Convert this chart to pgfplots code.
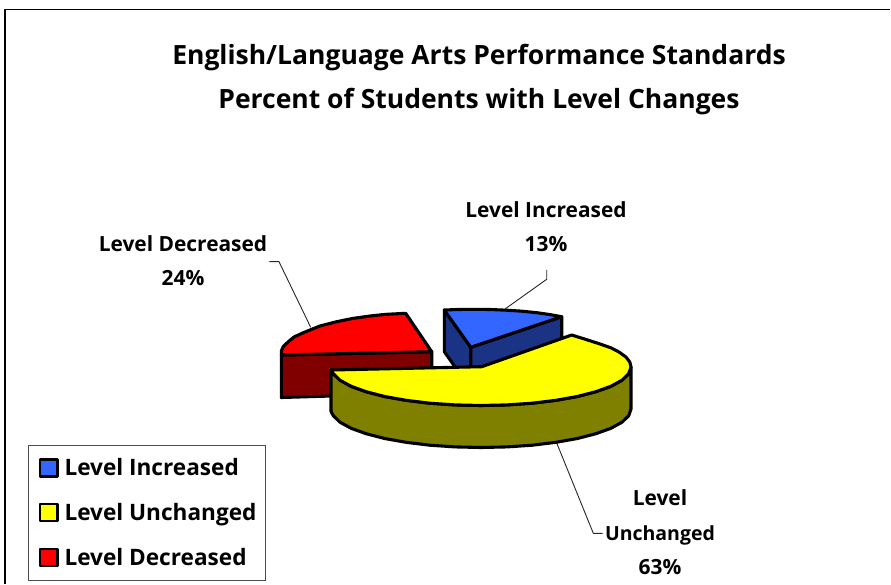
\documentclass[border=0pt]{standalone}
\usepackage{pgfplots}
\pgfplotsset{compat=1.18}
\usepackage{fontspec}
\setmainfont{Open Sans}
\definecolor{cblue}{HTML}{3366FF}
\definecolor{cblued}{HTML}{1A3385}
\definecolor{cyel}{HTML}{FFFF00}
\definecolor{cyeld}{HTML}{808000}
\definecolor{cred}{HTML}{FF0000}
\definecolor{credd}{HTML}{800000}
\begin{document}
\begin{tikzpicture}[x=1pt,y=1pt]
\begin{axis}[
  scale only axis, width=891pt, height=585pt,
  xmin=0, xmax=891, ymin=0, ymax=585, y dir=reverse,
  hide axis, clip=false,
  legend style={at={(axis cs:28,445)}, anchor=north west, draw=black!70, line width=0.9pt,
    font=\fontsize{22.6}{25}\selectfont\bfseries, inner xsep=9pt, inner ysep=13pt,
    /tikz/every even column/.append style={column sep=0pt},
    row sep=25.5pt, legend cell align=left, nodes={inner sep=0pt, anchor=west}},
  every axis plot/.append style={line join=round},
]
% page corners
\addplot[forget plot, draw=none, line width=0pt] coordinates {(0,0) (891,585)};
% frame
\addplot[forget plot, black, line width=1.4pt] coordinates {(5,584) (5,9.5) (890,9.5)};
% leaders
\addplot[forget plot, black!85, line width=0.9pt] coordinates {(505,309) (546.7,279.3) (546.7,270)};
\addplot[forget plot, black!85, line width=0.9pt] coordinates {(310.7,327.3) (279,261.7) (269.3,261.7)};
\addplot[forget plot, black!85, line width=0.9pt] coordinates {(556.7,443) (593.3,533.3) (602.7,533.3)};
% red
\addplot[forget plot, fill=credd, draw=black, line width=3.1pt] coordinates {(281.3,355) (431.7,351.7) (431.7,393) (281.3,397.5)} -- cycle;
\addplot[forget plot, fill=cred, draw=black, line width=3.1pt] coordinates {(431.7,351.7) (405.7,313.3) (385,314.4) (370,316) (353,318.4) (336.7,321.7) (320,326) (303.3,332.7) (294,337) (288.3,341.7) (283.3,346.5) (281.3,351) (281.3,355)} -- cycle;
% blue
\addplot[forget plot, fill=cblued, draw=black, line width=3.1pt] coordinates {(444.3,310) (470.7,347.3) (470.7,389) (444.3,351.7)} -- cycle;
\addplot[forget plot, fill=cblued, draw=black, line width=3.1pt] coordinates {(470.7,347.3) (561.7,316.7) (561.7,358) (470.7,389)} -- cycle;
\addplot[forget plot, fill=cblue, draw=black, line width=3.1pt] coordinates {(470.7,347.3) (444.3,310) (458,309.5) (473,309.3) (490,309.5) (506.7,310.2) (522,311.2) (536.7,312.7) (550,314.6) (561.7,316.7)} -- cycle;
% yellow
\addplot[forget plot, fill=cyeld, draw=black, line width=3.1pt] coordinates {
 (631,367) (628.7,373.7) (622,380.2) (610.9,386.3) (595.9,391.7) (577.4,396.5) (556,400.3) (532.3,403.2) (507,404.9) (481,405.5) (455,404.9) (429.7,403.2) (406,400.3) (384.6,396.5) (366.1,391.7) (351.1,386.3) (340,380.2) (333.3,373.7) (331,370)
 (331,411.5) (333.3,415.7) (340,422.2) (351.1,428.3) (366.1,433.7) (384.6,438.5) (406,442.3) (429.7,445.2) (455,446.9) (481,447.5) (507,446.9) (532.3,445.2) (556,442.3) (577.4,438.5) (595.9,433.7) (610.9,428.3) (622,422.2) (628.7,415.7) (631,409)} -- cycle;
\addplot[forget plot, fill=cyel, draw=black, line width=3.1pt] coordinates {
 (481.7,366.7) (571.7,335) (587,339.8) (600,344) (610.9,347.8) (619,352) (625.9,357) (629.8,362) (631,367) (628.7,373.7) (622,380.2) (610.9,386.3) (595.9,391.7) (577.4,396.5) (556,400.3) (532.3,403.2) (507,404.9) (481,405.5) (455,404.9) (429.7,403.2) (406,400.3) (384.6,396.5) (366.1,391.7) (351.1,386.3) (340,380.2) (333.3,373.7) (331,370)} -- cycle;
% legend
\addlegendimage{legend image code/.code={\path (-2pt,0pt); \draw[fill=cblue,draw=black,line width=2.2pt] (0pt,-8.5pt) rectangle (17.5pt,8.5pt);}, }
\addlegendentry{\hspace{6pt}Level Increased}
\addlegendimage{legend image code/.code={\path (-2pt,0pt); \draw[fill=cyel,draw=black,line width=2.2pt] (0pt,-8.5pt) rectangle (17.5pt,8.5pt);}}
\addlegendentry{\hspace{6pt}Level Unchanged}
\addlegendimage{legend image code/.code={\path (-2pt,0pt); \draw[fill=cred,draw=black,line width=2.2pt] (0pt,-8.5pt) rectangle (17.5pt,8.5pt);}}
\addlegendentry{\hspace{6pt}Level Decreased}
% title
\node[anchor=base, font=\fontsize{26.5}{30}\selectfont\bfseries] at (axis cs:479,64.5) {English/Language Arts Performance Standards};
\node[anchor=base, font=\fontsize{26.5}{30}\selectfont\bfseries] at (axis cs:479,108.5) {Percent of Students with Level Changes};
% labels
\node[anchor=base, font=\fontsize{20.9}{24}\selectfont\bfseries] at (axis cs:546,217.5) {Level Increased};
\node[anchor=base, font=\fontsize{20.9}{24}\selectfont\bfseries] at (axis cs:546,252) {13\%};
\node[anchor=base, font=\fontsize{20.9}{24}\selectfont\bfseries] at (axis cs:183,252) {Level Decreased};
\node[anchor=base, font=\fontsize{20.9}{24}\selectfont\bfseries] at (axis cs:183,285) {24\%};
\node[anchor=base, font=\fontsize{20.9}{24}\selectfont\bfseries] at (axis cs:660,505) {Level};
\node[anchor=base, font=\fontsize{19.5}{24}\selectfont\bfseries] at (axis cs:660,540) {Unchanged};
\node[anchor=base, font=\fontsize{20.9}{24}\selectfont\bfseries] at (axis cs:660,574) {63\%};
\end{axis}
\end{tikzpicture}
\end{document}
